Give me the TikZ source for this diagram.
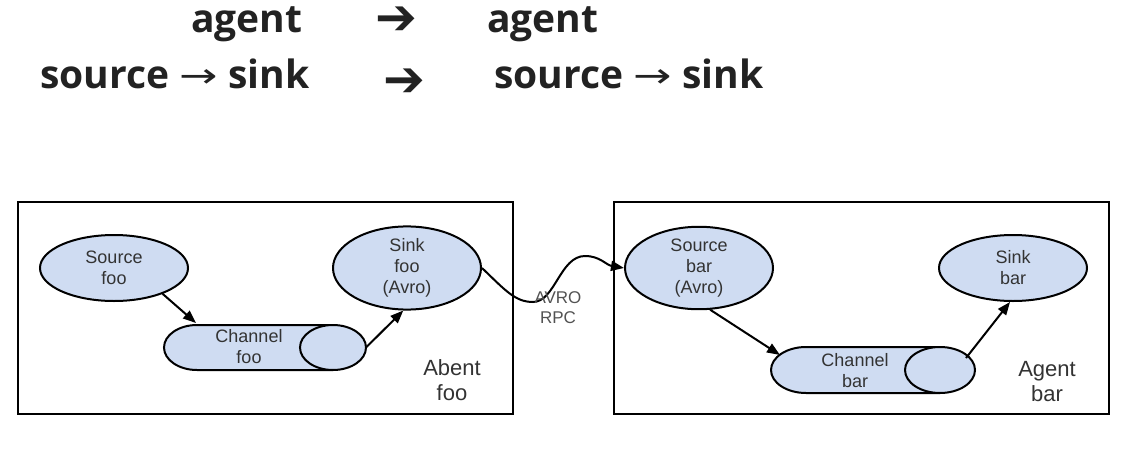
\documentclass[tikz,border=0pt]{standalone}
\usepackage{fontspec}
\usepackage{graphicx}
\setmainfont{Liberation Sans}
\newfontfamily\topfont{Open Sans}
\newfontfamily\symfont{DejaVu Sans}
\usetikzlibrary{shapes.geometric,arrows.meta,calc}
\definecolor{nodeblue}{HTML}{CFDCF2}
\definecolor{textgray}{HTML}{333333}
\definecolor{headblack}{HTML}{222222}
\tikzset{
  agentbox/.style={draw=black, line width=2pt},
  ell/.style={ellipse, draw=black, line width=2pt, fill=nodeblue,
    minimum width=148pt, minimum height=66pt, inner sep=0pt,
    font=\fontsize{18}{21}\selectfont, text=textgray, align=center},
  chanbox/.style={rectangle, inner sep=0pt, outer sep=0pt},
  chanline/.style={draw=black, line width=2pt},
  chantext/.style={font=\fontsize{18}{21}\selectfont, text=textgray, align=center},
  lbl/.style={font=\fontsize{22}{25}\selectfont, text=textgray, align=center},
  rpc/.style={font=\fontsize{17}{20}\selectfont, text=textgray!85, align=center},
  arr/.style={line width=2pt, -{Triangle[length=13pt,width=10pt]}},
  head/.style={font=\topfont\bfseries\fontsize{39}{42}\selectfont, text=headblack, anchor=base west, inner sep=0pt},
  bigarr/.style={font=\symfont\fontsize{50}{52}\selectfont, text=headblack, inner sep=0pt,
    text height=20pt, text depth=0pt, anchor=base}
}
\newcommand{\thinarr}{{\symfont\mdseries\fontsize{34}{40}\selectfont\raisebox{1pt}{\scalebox{1.35}[1]{→}}}}
% channel drawing: #1 node name, #2 cap x-radius, #3 cap y-radius
\newcommand{\drawchannel}[3]{%
  \fill[nodeblue] ($(#1.north west)+(#2,0)$) -- ($(#1.north east)+(-#2,0)$) -- ($(#1.south east)+(-#2,0)$) -- ($(#1.south west)+(#2,0)$) -- cycle;
  \filldraw[fill=nodeblue, chanline] ($(#1.north east)+(-#2,0)$) -- ($(#1.north west)+(#2,0)$)
     arc[start angle=270, end angle=90, x radius=#2, y radius=#3] -- ($(#1.south east)+(-#2,0)$);
  \filldraw[fill=nodeblue, chanline] ($(#1.east)+(-#2,0)$) ellipse[x radius=#2, y radius=#3];
}
\begin{document}
\begin{tikzpicture}[x=1pt,y=-1pt]
\useasboundingbox (0,0) rectangle (1123,460);
% headings
\node[head] (a1) at (191,33) {agent};
\node[head] (s1) at (40,88) {source \thinarr{} sink};
\node[bigarr] (ar1) at (396,35) {➔};
\node[bigarr] (ar2) at (404,96) {➔};
\node[head] (a2) at (487,33) {agent};
\node[head] (s2) at (494,88) {source \thinarr{} sink};
% agent boxes
\node[agentbox, minimum width=495pt, minimum height=212pt, inner sep=0pt] (boxfoo) at (265.5,308) {};
\node[agentbox, minimum width=495pt, minimum height=212pt, inner sep=0pt] (boxbar) at (861.5,308) {};
% left agent
\node[ell] (srcfoo) at (114,268) {Source\\foo};
\node[ell] (sinkfoo) at (407,268) {Sink\\foo\\(Avro)};
\node[chanbox, minimum width=202pt, minimum height=45pt] (chfoo) at (265,347.5) {};
\drawchannel{chfoo}{33}{22.5}
\node[chantext] (chfootxt) at (249,347) {Channel\\foo};
\node[lbl] (agfoo) at (452,380) {Abent\\foo};
% right agent
\node[ell] (srcbar) at (699,268) {Source\\bar\\(Avro)};
\node[ell] (sinkbar) at (1013,268) {Sink\\bar};
\node[chanbox, minimum width=204pt, minimum height=46pt] (chbar) at (873,370) {};
\drawchannel{chbar}{35}{23}
\node[chantext] (chbartxt) at (855,371) {Channel\\bar};
\node[lbl] (agbar) at (1047,382) {Agent\\bar};
% connectors
\draw[arr] (srcfoo.-28) -- ($(chfoo.north west)+(32,-2)$);
\draw[arr] (chfoo.east) -- (sinkfoo.-95);
\draw[arr] (srcbar.-75) -- ($(chbar.west)+(9,-15)$);
\draw[arr] ($(chbar.east)+(-9,-12)$) -- (sinkbar.-95);
\draw[arr] (sinkfoo.east) .. controls (505,290) and (515,302) .. (533,302)
  .. controls (555,302) and (560,256) .. (585,256)
  .. controls (600,256) and (606,265) .. (srcbar.west);
\node[rpc] (avro) at (558,308) {AVRO\\RPC};
\end{tikzpicture}
\end{document}
